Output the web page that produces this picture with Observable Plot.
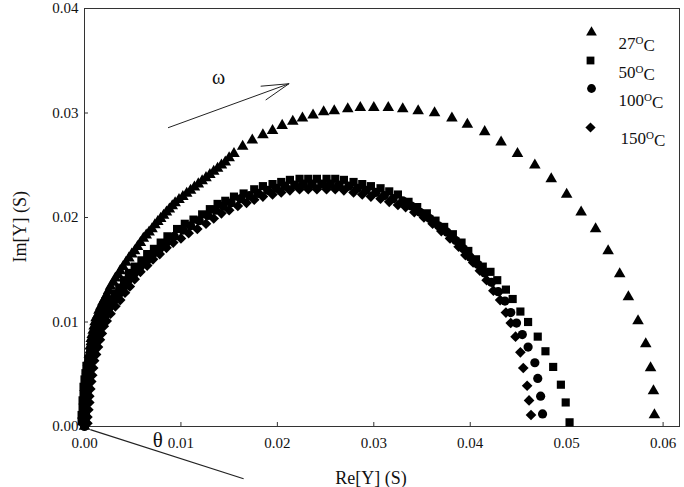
<!DOCTYPE html>
<html><head><meta charset="utf-8">
<script src="https://cdn.jsdelivr.net/npm/d3@7"></script>
<script src="https://cdn.jsdelivr.net/npm/@observablehq/plot@0.6"></script>
<style>
body{margin:0;background:#fff}
#chart{width:684px;height:487px;overflow:hidden}
</style>
</head><body><div id="chart"></div>
<script>
// ---- data (Re[Y], Im[Y]) in siemens ----
const xTicks = [0, 0.01, 0.02, 0.03, 0.04, 0.05, 0.06];
const yTicks = [0, 0.01, 0.02, 0.03, 0.04];
const seriesNames = ["27°C", "50°C", "100°C", "150°C"];
const seriesSymbols = ["triangle", "square", "circle", "diamond2"];

const arc27 = [[0.0000,0.0000],[0.0000,0.0004],[0.0000,0.0008],[0.0000,0.0012],[0.0000,0.0015],[0.0001,0.0019],[0.0001,0.0023],[0.0001,0.0027],[0.0001,0.0031],[0.0002,0.0035],[0.0002,0.0038],[0.0002,0.0042],[0.0003,0.0046],[0.0003,0.0050],[0.0003,0.0054],[0.0004,0.0058],[0.0004,0.0061],[0.0005,0.0065],[0.0005,0.0069],[0.0006,0.0073],[0.0006,0.0077],[0.0007,0.0081],[0.0007,0.0084],[0.0008,0.0088],[0.0009,0.0092],[0.0010,0.0096],[0.0011,0.0100],[0.0012,0.0104],[0.0014,0.0107],[0.0015,0.0111],[0.0017,0.0115],[0.0019,0.0119],[0.0021,0.0122],[0.0023,0.0126],[0.0025,0.0130],[0.0027,0.0134],[0.0030,0.0138],[0.0032,0.0142],[0.0035,0.0145],[0.0037,0.0149],[0.0040,0.0153],[0.0043,0.0157],[0.0046,0.0161],[0.0049,0.0165],[0.0052,0.0168],[0.0055,0.0172],[0.0058,0.0176],[0.0061,0.0180],[0.0064,0.0183],[0.0067,0.0186],[0.0070,0.0189],[0.0073,0.0193],[0.0076,0.0196],[0.0079,0.0199],[0.0082,0.0202],[0.0085,0.0205],[0.0088,0.0208],[0.0091,0.0211],[0.0094,0.0214],[0.0098,0.0217],[0.0102,0.0220],[0.0106,0.0223],[0.0110,0.0226],[0.0114,0.0229],[0.0118,0.0232],[0.0122,0.0235],[0.0126,0.0238],[0.0130,0.0241],[0.0134,0.0244],[0.0138,0.0247],[0.0142,0.0250],[0.0146,0.0253],[0.0150,0.0257],[0.0155,0.0261],[0.0164,0.0268],[0.0174,0.0274],[0.0185,0.0279],[0.0195,0.0283],[0.0205,0.0288],[0.0216,0.0292],[0.0226,0.0295],[0.0237,0.0298],[0.0248,0.0301],[0.0259,0.0302],[0.0273,0.0304],[0.0286,0.0305],[0.0300,0.0305],[0.0315,0.0305],[0.0330,0.0304],[0.0346,0.0302],[0.0363,0.0300],[0.0381,0.0295],[0.0397,0.0289],[0.0415,0.0282],[0.0432,0.0272],[0.0449,0.0261],[0.0467,0.0250],[0.0484,0.0237],[0.0500,0.0222],[0.0515,0.0205],[0.0530,0.0189],[0.0543,0.0168],[0.0555,0.0146],[0.0564,0.0124],[0.0574,0.0101],[0.0582,0.0079],[0.0587,0.0056],[0.0590,0.0034],[0.0591,0.0011]];

// 50 °C (outermost of the three lower arcs)
const arc50 = [[-0.0003,0.0005],[-0.0003,0.0011],[-0.0002,0.0018],[-0.0002,0.0025],[-0.0001,0.0031],[-0.0001,0.0038],[0.0000,0.0045],[0.0001,0.0051],[0.0002,0.0058],[0.0004,0.0065],[0.0006,0.0071],[0.0008,0.0078],[0.0010,0.0085],[0.0012,0.0091],[0.0014,0.0098],[0.0017,0.0106],[0.0021,0.0113],[0.0026,0.0120],[0.0031,0.0127],[0.0036,0.0133],[0.0041,0.0140],[0.0046,0.0147],[0.0052,0.0153],[0.0059,0.0159],[0.0065,0.0165],[0.0072,0.0170],[0.0079,0.0176],[0.0086,0.0182],[0.0096,0.0189],[0.0104,0.0194],[0.0113,0.0198],[0.0122,0.0203],[0.0130,0.0208],[0.0138,0.0213],[0.0146,0.0216],[0.0155,0.0220],[0.0165,0.0223],[0.0176,0.0227],[0.0185,0.0230],[0.0195,0.0232],[0.0204,0.0234],[0.0213,0.0236],[0.0223,0.0237],[0.0232,0.0237],[0.0241,0.0237],[0.0251,0.0237],[0.0260,0.0237],[0.0269,0.0236],[0.0279,0.0234],[0.0288,0.0232],[0.0297,0.0230],[0.0307,0.0228],[0.0316,0.0225],[0.0325,0.0222],[0.0336,0.0215],[0.0345,0.0210],[0.0355,0.0204],[0.0364,0.0197],[0.0373,0.0191],[0.0382,0.0184],[0.0391,0.0176],[0.0398,0.0168],[0.0406,0.0160],[0.0413,0.0153],[0.0421,0.0148],[0.0428,0.0140],[0.0437,0.0131],[0.0444,0.0122],[0.0452,0.0110],[0.0460,0.0100],[0.0470,0.0086],[0.0478,0.0072],[0.0486,0.0057],[0.0494,0.0040],[0.0499,0.0023],[0.0503,0.0004]];

// 100 °C (middle arc)
const arc100 = [[0.0000,0.0000],[0.0000,0.0007],[0.0001,0.0013],[0.0001,0.0020],[0.0002,0.0027],[0.0002,0.0033],[0.0003,0.0040],[0.0004,0.0047],[0.0005,0.0054],[0.0006,0.0060],[0.0008,0.0067],[0.0010,0.0074],[0.0012,0.0080],[0.0014,0.0087],[0.0016,0.0094],[0.0018,0.0100],[0.0022,0.0107],[0.0026,0.0114],[0.0031,0.0121],[0.0036,0.0127],[0.0041,0.0134],[0.0046,0.0141],[0.0052,0.0147],[0.0058,0.0153],[0.0065,0.0159],[0.0071,0.0165],[0.0078,0.0170],[0.0085,0.0176],[0.0093,0.0182],[0.0102,0.0188],[0.0110,0.0192],[0.0119,0.0197],[0.0128,0.0202],[0.0136,0.0207],[0.0144,0.0211],[0.0152,0.0214],[0.0162,0.0218],[0.0171,0.0221],[0.0180,0.0223],[0.0190,0.0226],[0.0199,0.0228],[0.0208,0.0230],[0.0218,0.0231],[0.0227,0.0232],[0.0236,0.0232],[0.0246,0.0232],[0.0255,0.0232],[0.0264,0.0231],[0.0274,0.0230],[0.0283,0.0228],[0.0292,0.0226],[0.0302,0.0224],[0.0311,0.0221],[0.0320,0.0218],[0.0330,0.0216],[0.0339,0.0211],[0.0348,0.0205],[0.0358,0.0199],[0.0367,0.0192],[0.0376,0.0186],[0.0385,0.0178],[0.0393,0.0170],[0.0400,0.0162],[0.0408,0.0155],[0.0415,0.0147],[0.0422,0.0138],[0.0429,0.0129],[0.0436,0.0120],[0.0442,0.0109],[0.0448,0.0099],[0.0454,0.0088],[0.0460,0.0076],[0.0467,0.0061],[0.0470,0.0046],[0.0473,0.0029],[0.0475,0.0012]];

// 150 °C (innermost arc)
const arc150 = [[0.0003,0.0003],[0.0003,0.0009],[0.0004,0.0016],[0.0005,0.0023],[0.0005,0.0029],[0.0006,0.0036],[0.0007,0.0043],[0.0008,0.0049],[0.0009,0.0056],[0.0010,0.0063],[0.0012,0.0069],[0.0014,0.0076],[0.0016,0.0083],[0.0018,0.0089],[0.0020,0.0096],[0.0023,0.0101],[0.0027,0.0108],[0.0032,0.0115],[0.0037,0.0121],[0.0042,0.0128],[0.0047,0.0134],[0.0052,0.0141],[0.0058,0.0148],[0.0065,0.0154],[0.0071,0.0160],[0.0078,0.0165],[0.0085,0.0171],[0.0092,0.0176],[0.0100,0.0180],[0.0108,0.0185],[0.0117,0.0189],[0.0126,0.0194],[0.0134,0.0199],[0.0142,0.0204],[0.0150,0.0207],[0.0159,0.0211],[0.0168,0.0214],[0.0176,0.0217],[0.0185,0.0220],[0.0195,0.0222],[0.0204,0.0224],[0.0213,0.0226],[0.0223,0.0227],[0.0232,0.0227],[0.0241,0.0227],[0.0251,0.0227],[0.0260,0.0227],[0.0269,0.0226],[0.0279,0.0224],[0.0288,0.0222],[0.0297,0.0220],[0.0307,0.0218],[0.0316,0.0215],[0.0325,0.0212],[0.0333,0.0210],[0.0342,0.0205],[0.0352,0.0200],[0.0361,0.0194],[0.0370,0.0187],[0.0379,0.0180],[0.0388,0.0172],[0.0395,0.0164],[0.0403,0.0157],[0.0410,0.0149],[0.0417,0.0140],[0.0424,0.0130],[0.0431,0.0121],[0.0437,0.0109],[0.0442,0.0099],[0.0447,0.0086],[0.0452,0.0071],[0.0455,0.0056],[0.0459,0.0039],[0.0461,0.0025],[0.0463,0.0011]];

// annotations (data units)
const omegaArrow = [{x1: 0.0087, y1: 0.0286, x2: 0.0212, y2: 0.0328}];
const omegaLabel = [{x: 0.0139, y: 0.0334, t: "ω"}];
const thetaLine  = [{x1: 0.0006, y1: -0.0003, x2: 0.0165, y2: -0.0050}];
const thetaLabel = [{x: 0.0076, y: -0.0013, t: "θ"}];

// ---- build table ----
const seriesData = [arc27, arc50, arc100, arc150];
const points = seriesData.flatMap((arr, i) => arr.map(([x, y]) => ({x, y, s: seriesNames[i]})));

const serif = "Liberation Serif, Times New Roman, serif";
const W = 684, H = 487;
const mL = 84, mR = 5, mT = 8, mB = 61;
const innerW = W - mL - mR, innerH = H - mT - mB;
const ink = "#111";

const legendLayout = [
  {dx: -88, dy: 24, tdx: -61, tdy: 28, r: 4.0},
  {dx: -89, dy: 52, tdx: -61, tdy: 57, r: 4.4},
  {dx: -88, dy: 80, tdx: -61, tdy: 85, r: 4.4},
  {dx: -89, dy: 119, tdx: -59, tdy: 123, r: 4.6}
];
const markerR = {"27°C": 4.3, "50°C": 4.6, "100°C": 4.6, "150°C": 4.8};

const marks = [
  Plot.frame({stroke: "#333", strokeWidth: 1}),
  Plot.tickX(xTicks, {x: d => d, insetTop: innerH - 4, stroke: "#333"}),
  Plot.tickY(yTicks, {y: d => d, insetRight: innerW - 4, stroke: "#333"}),
  Plot.axisX(xTicks, {tickSize: 0, tickPadding: 11, tickFormat: d3.format(".2f"), label: null, fontSize: 15, fill: ink}),
  Plot.axisY(yTicks, {tickSize: 0, tickPadding: 6, tickFormat: d3.format(".2f"), label: null, fontSize: 15, fill: ink}),
  ...seriesNames.map((name, i) => Plot.dot(points.filter(p => p.s === name), {
    x: "x", y: "y", symbol: () => seriesSymbols[i], r: markerR[name], fill: "black", stroke: "none"
  })),
  Plot.arrow(omegaArrow, {x1: "x1", y1: "y1", x2: "x2", y2: "y2", stroke: "#222", strokeWidth: 1, headLength: 42, headAngle: 30}),
  Plot.text(omegaLabel, {x: "x", y: "y", text: "t", fontSize: 20, fontFamily: serif, fill: ink}),
  Plot.link(thetaLine, {x1: "x1", y1: "y1", x2: "x2", y2: "y2", stroke: "#222", strokeWidth: 1.2}),
  Plot.text(thetaLabel, {x: "x", y: "y", text: "t", fontSize: 21, fontFamily: serif, fill: ink}),
  Plot.text(["Im[Y] (S)"], {frameAnchor: "left", rotate: -90, dx: -64, dy: 45, fontSize: 18, fontFamily: serif, fill: ink}),
  Plot.text(["Re[Y] (S)"], {frameAnchor: "bottom", dx: -11, dy: 57, fontSize: 18, fontFamily: serif, fill: ink}),
  ...legendLayout.map((L, i) => Plot.dot([seriesNames[i]], {frameAnchor: "top-right", dx: L.dx, dy: L.dy, symbol: () => seriesSymbols[i], r: L.r, fill: "black"})),
  ...legendLayout.map((L, i) => Plot.text([seriesNames[i]], {frameAnchor: "top-right", dx: L.tdx, dy: L.tdy, text: d => d, textAnchor: "start", fontSize: 17, fontFamily: serif, fill: ink, className: "legend-label"}))
];

const chart = Plot.plot({
  width: W, height: H,
  marginLeft: mL, marginRight: mR, marginTop: mT, marginBottom: mB,
  style: {fontFamily: serif, fontSize: "15px", background: "white", color: ink, overflow: "visible"},
  x: {domain: [0, 0.0617], axis: null},
  y: {domain: [0, 0.04], axis: null},
  marks
});
document.getElementById("chart").appendChild(chart);

// superscript "O" for the degree sign in legend labels
d3.select(chart).selectAll(".legend-label text").each(function() {
  const t = this.textContent;
  const m = t.match(/^(\d+)°C$/);
  if (!m) return;
  const sel = d3.select(this);
  sel.text(null);
  sel.append("tspan").text(m[1]);
  sel.append("tspan").attr("dy", "-0.45em").attr("font-size", "11px").text("O");
  sel.append("tspan").attr("dy", "0.45em").text("C");
});
</script>
</body></html>
